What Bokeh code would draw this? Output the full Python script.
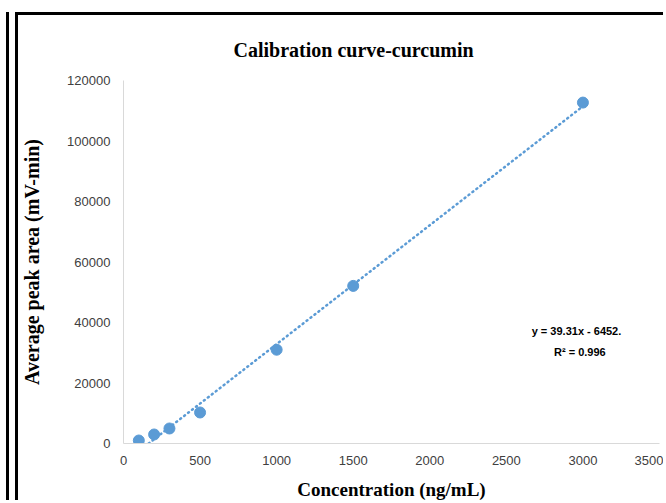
from bokeh.plotting import figure
from bokeh.models import Range1d, Label, FixedTicker, BasicTickFormatter
from bokeh.embed import file_html
from bokeh.resources import INLINE

# ---- data ----
conc = [100, 200, 300, 500, 1000, 1500, 3000]
area = [990, 2980, 4960, 10250, 31000, 52100, 112700]
slope = 39.31
intercept = -6452
x_ticks = [0, 500, 1000, 1500, 2000, 2500, 3000, 3500]
y_ticks = [0, 20000, 40000, 60000, 80000, 100000, 120000]
title_text = "Calibration curve-curcumin"
x_label = "Concentration (ng/mL)"
y_label = "Average peak area (mV-min)"
eq_text = "y = 39.31x - 6452."
r2_text = "R\u00b2 = 0.996"

BLUE = "#5B9BD5"

p = figure(width=648, height=488, output_backend="svg", toolbar_location=None,
           x_range=Range1d(0, 3500), y_range=Range1d(0, 120000),
           min_border_left=105, min_border_right=7, min_border_top=65, min_border_bottom=60)
p.margin = (12, 0, 0, 15)
p.styles = {"border-left": "3px solid #000", "border-top": "3px solid #000",
            "box-shadow": "-6px 0 0 0 #fff, -9px 0 0 0 #000"}
p.outline_line_color = None
p.background_fill_color = "white"
p.border_fill_color = "white"
p.grid.visible = False

p.title.text = title_text
p.title.text_font = "Liberation Serif"
p.title.text_font_style = "bold"
p.title.text_font_size = "20px"
p.title.text_color = "#000"
p.title.align = "left"
p.title.offset = 110
p.title.standoff = 40

for ax in (p.xaxis[0], p.yaxis[0]):
    ax.axis_line_color = "#D9D9D9"
    ax.axis_line_width = 1
    ax.major_tick_line_color = None
    ax.minor_tick_line_color = None
    ax.major_tick_in = 0
    ax.major_tick_out = 0
    ax.minor_tick_in = 0
    ax.minor_tick_out = 0
    ax.major_label_text_font = "Liberation Sans"
    ax.major_label_text_font_size = "13px"
    ax.major_label_text_color = "#404040"
    ax.axis_label_text_font = "Liberation Serif"
    ax.axis_label_text_font_style = "bold"
    ax.axis_label_text_color = "#000000"
    ax.formatter = BasicTickFormatter(use_scientific=False)

p.xaxis[0].ticker = FixedTicker(ticks=x_ticks)
p.yaxis[0].ticker = FixedTicker(ticks=y_ticks)
p.xaxis[0].major_label_standoff = 12
p.yaxis[0].major_label_standoff = 13
p.xaxis[0].axis_label = x_label
p.yaxis[0].axis_label = y_label
p.xaxis[0].axis_label_text_font_size = "19px"
p.yaxis[0].axis_label_text_font_size = "20px"
p.xaxis[0].axis_label_standoff = 11
p.yaxis[0].axis_label_standoff = 21

# trendline (clipped at y = 0 like the original)
x0 = -intercept / slope
x1 = max(conc)
p.line([x0, x1], [slope * x0 + intercept, slope * x1 + intercept],
       line_color=BLUE, line_width=2.5, line_dash="1 4", line_cap="round")

p.scatter(conc, area, size=11, fill_color=BLUE, line_color=BLUE)

p.add_layout(Label(x=2958, y=37300, text=eq_text, text_font="Liberation Sans",
                   text_font_style="bold", text_font_size="11px", text_color="#000",
                   text_align="center", text_baseline="middle"))
p.add_layout(Label(x=2980, y=30100, text=r2_text, text_font="Liberation Sans",
                   text_font_style="bold", text_font_size="11px", text_color="#000",
                   text_align="center", text_baseline="middle"))

open("out.html", "w").write(file_html(p, INLINE))
